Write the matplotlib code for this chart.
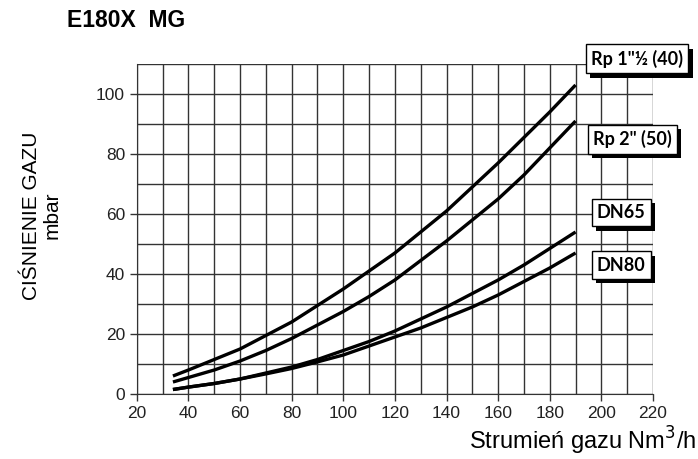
import matplotlib
matplotlib.use("Agg")
import matplotlib.pyplot as plt
import matplotlib.patheffects as pe
import numpy as np

# flow (Nm3/h) and pressure drop (mbar)
flow = [34, 40, 50, 60, 70, 80, 90, 100, 110, 120, 130, 140, 150, 160, 170, 180, 190]
rp_40 = [6, 8, 11.5, 15, 19.5, 24, 29.5, 35, 41, 47, 54, 61, 69, 77, 85.5, 94, 103]
rp_50 = [4, 5.5, 8, 11, 14.5, 18.5, 23, 27.5, 32.5, 38, 44.5, 51, 58, 65, 73, 82, 91]
dn65 = [1.5, 2.3, 3.5, 5, 7, 9, 11.5, 14.5, 17.5, 21, 25, 29, 33.5, 38, 43, 48.5, 54]
dn80 = [1.5, 2.3, 3.5, 5, 6.7, 8.5, 10.7, 13, 16, 19, 22, 25.5, 29, 33, 37.5, 42, 47]

series = [rp_40, rp_50, dn65, dn80]
labels = ['Rp 1"½ (40)', 'Rp 2" (50)', 'DN65', 'DN80']
label_y = [111.7, 84.9, 60.5, 42.9]
label_x = [196, 196.8, 198.3, 198.3]

plt.rcParams['font.family'] = ['Liberation Sans', 'DejaVu Sans']

fig = plt.figure(figsize=(6.98, 4.59), dpi=100)
ax = fig.add_axes([0.196, 0.1416, 0.7395, 0.719])

for s in series:
    ax.plot(flow, s, color='black', lw=2.4, solid_capstyle='butt', zorder=3)

ax.set_xlim(20, 220)
ax.set_ylim(0, 110)
ax.set_xticks(np.arange(20, 221, 20))
ax.set_yticks(np.arange(0, 101, 20))
ax.set_xticks(np.arange(20, 221, 10), minor=True)
ax.set_yticks(np.arange(0, 111, 10), minor=True)
ax.grid(which='both', color='#333333', lw=1.0)
ax.set_axisbelow(True)
for sp in ['top', 'right']:
    ax.spines[sp].set_visible(False)
for sp in ['left', 'bottom']:
    ax.spines[sp].set_color('#333333')
ax.tick_params(which='major', direction='out', length=5, width=1, color='#333333',
               labelsize=12.5, labelcolor='#222222')
ax.tick_params(which='minor', length=0)

for lab, xx, yy in zip(labels, label_x, label_y):
    t = ax.text(xx, yy, lab, family=['Lato', 'DejaVu Sans'], fontweight='bold',
                fontsize=13, va='center', ha='left', clip_on=False, zorder=5,
                bbox=dict(boxstyle='square,pad=0.3', fc='white', ec='black', lw=1))
    t.get_bbox_patch().set_path_effects([
        pe.SimplePatchShadow(offset=(3, -3), shadow_rgbFace='black', alpha=1),
        pe.Normal()])

fig.text(0.096, 0.955, 'E180X  MG', fontsize=16.5, fontweight='bold', va='center')
fig.text(0.045, 0.53, 'CIŚNIENIE GAZU', rotation=90, fontsize=15, va='center', ha='center')
fig.text(0.075, 0.53, 'mbar', rotation=90, fontsize=15, va='center', ha='center')
fig.text(0.998, 0.04, 'Strumień gazu Nm$^3$/h', fontsize=17, ha='right', va='center')

fig.savefig('out.png', dpi=100)
